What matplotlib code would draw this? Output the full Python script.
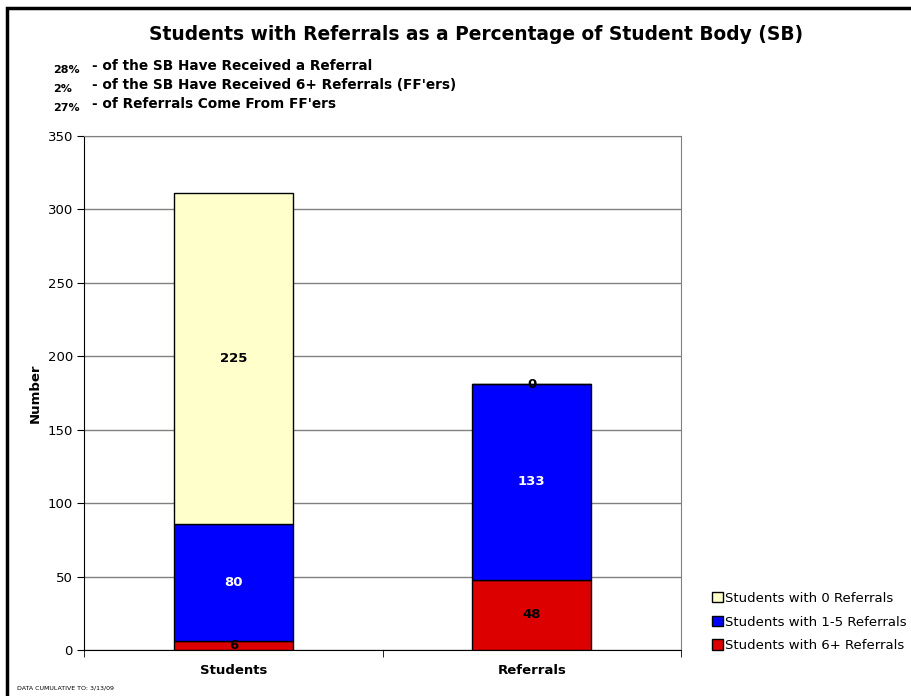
import matplotlib.pyplot as plt
import numpy as np
from matplotlib.patches import Patch, Rectangle

categories = ["Students", "Referrals"]
six_plus = [6, 48]
one_to_five = [80, 133]
zero_refs = [225, 0]
series_names = ["Students with 0 Referrals", "Students with 1-5 Referrals", "Students with 6+ Referrals"]
stats_pct = ["28%", "2%", "27%"]
stats_text = ["- of the SB Have Received a Referral",
              "- of the SB Have Received 6+ Referrals (FF'ers)",
              "- of Referrals Come From FF'ers"]

c_zero = "#FFFFCC"
c_mid = "#0000FF"
c_six = "#DD0000"

fig = plt.figure(figsize=(9.11, 6.96), dpi=100)
ax = fig.add_axes([84 / 911, 1 - 650 / 696, 597 / 911, 514 / 696])

x = np.arange(len(categories))
w = 0.4
b1 = ax.bar(x, six_plus, w, color=c_six, edgecolor="black", linewidth=1, zorder=3)
b2 = ax.bar(x, one_to_five, w, bottom=six_plus, color=c_mid, edgecolor="black", linewidth=1, zorder=3)
bot3 = np.array(six_plus) + np.array(one_to_five)
b3 = ax.bar(x, zero_refs, w, bottom=bot3, color=c_zero, edgecolor="black", linewidth=1, zorder=3)

ax.bar_label(b1, label_type="center", fontsize=9.5, fontweight="bold", color="black")
ax.bar_label(b2, label_type="center", fontsize=9.5, fontweight="bold", color="white")
ax.bar_label(b3, label_type="center", fontsize=9.5, fontweight="bold", color="black")

ax.set_xlim(-0.5, 1.5)
ax.set_ylim(0, 350)
ax.set_yticks(np.arange(0, 351, 50))
ax.tick_params(axis="y", labelsize=9.5, length=5, direction="out", pad=3)
ax.set_xticks(x, categories, fontweight="bold", fontsize=9.5)
ax.set_xticks([-0.5, 0.5, 1.5], minor=True)
ax.tick_params(axis="x", which="major", length=0, pad=10)
ax.tick_params(axis="x", which="minor", length=5)
ax.yaxis.grid(True, color="#808080", linewidth=1, zorder=0)
ax.set_axisbelow(True)
for s in ["top", "right"]:
    ax.spines[s].set_color("#808080")
ax.spines["left"].set_color("black")
ax.spines["bottom"].set_color("black")
ax.set_ylabel("Number", fontweight="bold", fontsize=9.5, labelpad=4)

fig.text(476 / 911, 1 - 35 / 696, "Students with Referrals as a Percentage of Student Body (SB)",
         ha="center", va="center", fontsize=13.4, fontweight="bold")
for i in range(3):
    y0 = 66 + 19 * i
    fig.text(53 / 911, 1 - (y0 + 4) / 696, stats_pct[i], ha="left", va="center", fontsize=8, fontweight="bold")
    fig.text(92 / 911, 1 - y0 / 696, stats_text[i], ha="left", va="center", fontsize=9.8, fontweight="bold")

fig.text(17 / 911, 1 - 688 / 696, "DATA CUMULATIVE TO: 3/13/09", ha="left", va="center", fontsize=4.5)

handles = [Patch(facecolor=c_zero, edgecolor="black", label=series_names[0]),
           Patch(facecolor=c_mid, edgecolor="black", label=series_names[1]),
           Patch(facecolor=c_six, edgecolor="black", label=series_names[2])]
fig.legend(handles=handles, loc="upper left", bbox_to_anchor=(712 / 911, 1 - 592 / 696),
           frameon=False, fontsize=9.5, handlelength=0.8, handleheight=0.8,
           handletextpad=0.2, labelspacing=0.8, borderaxespad=0, borderpad=0)

fig.patches.append(Rectangle((7 / 911, -0.1), 1.2, 1 - 8 / 696 + 0.1, transform=fig.transFigure,
                             fill=False, edgecolor="black", linewidth=2.5))

fig.savefig("out.png", dpi=100)
